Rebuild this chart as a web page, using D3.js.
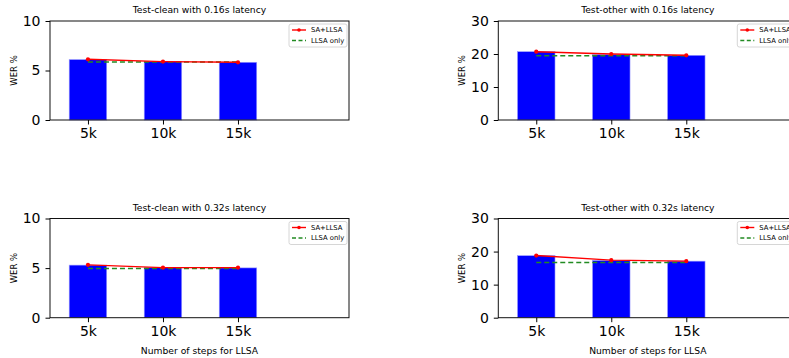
<!DOCTYPE html>
<html><head><meta charset="utf-8">
<script src="https://cdn.jsdelivr.net/npm/d3@7"></script>
<style>body{margin:0;background:#fff;} svg{display:block;font-family:"DejaVu Sans",sans-serif;}</style>
</head><body>
<svg id="c" width="789" height="358"></svg>
<script>
const categories = ["5k", "10k", "15k"];
const steps = [5, 10, 15];
const titles = ["Test-clean with 0.16s latency", "Test-other with 0.16s latency",
                "Test-clean with 0.32s latency", "Test-other with 0.32s latency"];
const barValues = [[6.1, 5.9, 5.83], [20.7, 19.8, 19.6], [5.3, 5.06, 5.02], [18.75, 17.3, 17.1]];
const saLlsa = [[6.13, 5.9, 5.83], [20.7, 20.0, 19.6], [5.33, 5.05, 5.05], [18.8, 17.4, 17.1]];
const llsaOnly = [[5.86, 5.86, 5.86], [19.5, 19.5, 19.5], [4.97, 4.97, 4.97], [16.7, 16.7, 16.7]];
const yMax = [10, 30, 10, 30];
const yTicks = [[0, 5, 10], [0, 10, 20, 30], [0, 5, 10], [0, 10, 20, 30]];
const legendLabels = ["SA+LLSA", "LLSA only"];
const xLabel = "Number of steps for LLSA";
const yLabel = "WER %";

const svg = d3.select("#c");
const panels = [
  {x0: 50, x1: 349, y0: 21, y1: 120},
  {x0: 498.3, x1: 797.3, y0: 21, y1: 120},
  {x0: 50, x1: 349, y0: 218.5, y1: 317.7},
  {x0: 498.3, x1: 797.3, y0: 218.5, y1: 317.7}
];

panels.forEach((p, i) => {
  const x = d3.scaleLinear().domain([2.47, 22.4]).range([p.x0, p.x1]);
  const y = d3.scaleLinear().domain([0, yMax[i]]).range([p.y1, p.y0]);
  const g = svg.append("g");
  const bw = x(2.5) - x(0);

  g.selectAll("rect.bar").data(barValues[i]).join("rect")
    .attr("x", (d, j) => x(steps[j]) - bw / 2)
    .attr("y", d => y(d))
    .attr("width", bw)
    .attr("height", d => y(0) - y(d))
    .attr("fill", "#0000ff")
    .attr("stroke", "#9a9aff").attr("stroke-width", 0.6);

  const line = d3.line().x((d, j) => x(steps[j])).y(d => y(d));
  g.append("path").datum(llsaOnly[i]).attr("d", line)
    .attr("fill", "none").attr("stroke", "#228B22").attr("stroke-width", 1.5)
    .attr("stroke-dasharray", "5,3");
  g.append("path").datum(saLlsa[i]).attr("d", line)
    .attr("fill", "none").attr("stroke", "#ff0000").attr("stroke-width", 1.4);
  g.selectAll("circle.pt").data(saLlsa[i]).join("circle")
    .attr("cx", (d, j) => x(steps[j])).attr("cy", d => y(d)).attr("r", 2.1)
    .attr("fill", "#ff0000");

  g.append("rect").attr("x", p.x0).attr("y", p.y0).attr("width", p.x1 - p.x0).attr("height", p.y1 - p.y0)
    .attr("fill", "none").attr("stroke", "#111").attr("stroke-width", 1);

  const ya = d3.axisLeft(y).tickValues(yTicks[i]).tickSize(4.5).tickPadding(5).tickFormat(d3.format("d"));
  const yg = g.append("g").attr("transform", `translate(${p.x0},0)`).call(ya);
  yg.select(".domain").remove();
  yg.selectAll("text").attr("font-size", 14).attr("font-family", "DejaVu Sans").attr("fill", "#000");
  yg.selectAll("line").attr("stroke", "#000");

  const xa = d3.axisBottom(x).tickValues(steps).tickSize(4.5).tickPadding(4).tickFormat((d, j) => categories[j]);
  const xg = g.append("g").attr("transform", `translate(0,${p.y1})`).call(xa);
  xg.select(".domain").remove();
  xg.selectAll("text").attr("font-size", 14).attr("font-family", "DejaVu Sans").attr("fill", "#000");
  xg.selectAll("line").attr("stroke", "#000");

  g.append("text").attr("x", (p.x0 + p.x1) / 2).attr("y", p.y0 - 8)
    .attr("text-anchor", "middle").attr("font-size", 9.2).text(titles[i]);
  g.append("text").attr("transform", `translate(${p.x0 - 33},${(p.y0 + p.y1) / 2}) rotate(-90)`)
    .attr("text-anchor", "middle").attr("font-size", 8.5).text(yLabel);
  if (i >= 2) {
    g.append("text").attr("x", (p.x0 + p.x1) / 2).attr("y", p.y1 + 36)
      .attr("text-anchor", "middle").attr("font-size", 9.2).text(xLabel);
  }

  const lx = p.x0 + 239, ly = p.y0 + 3;
  const lg = g.append("g").attr("transform", `translate(${lx},${ly})`);
  lg.append("rect").attr("x", 0).attr("y", 0).attr("width", 58).attr("height", 23).attr("rx", 2)
    .attr("fill", "#fff").attr("fill-opacity", 0.8).attr("stroke", "#ccc").attr("stroke-width", 0.8);
  lg.append("line").attr("x1", 3).attr("x2", 17).attr("y1", 6).attr("y2", 6)
    .attr("stroke", "#ff0000").attr("stroke-width", 1.4);
  lg.append("circle").attr("cx", 10).attr("cy", 6).attr("r", 1.8).attr("fill", "#ff0000");
  lg.append("line").attr("x1", 3).attr("x2", 17).attr("y1", 16.5).attr("y2", 16.5)
    .attr("stroke", "#228B22").attr("stroke-width", 1.4).attr("stroke-dasharray", "4,2.5");
  lg.selectAll("text.lt").data(legendLabels).join("text")
    .attr("x", 22).attr("y", (d, j) => 8.4 + j * 10.5).attr("font-size", 6.8).text(d => d);
});
</script>
</body></html>
